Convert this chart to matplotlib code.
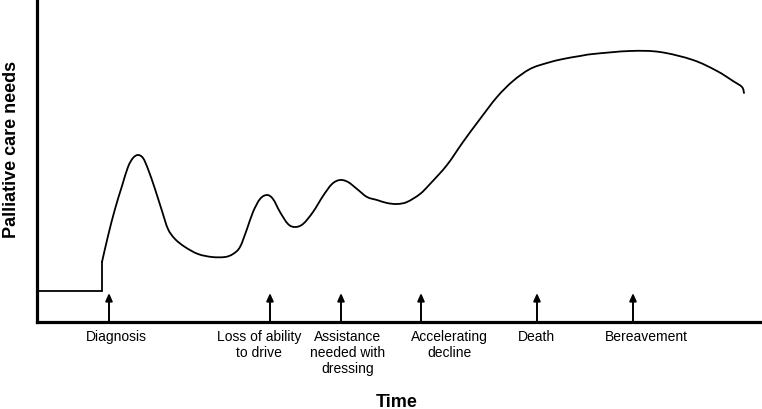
import matplotlib
matplotlib.use("Agg")
import matplotlib.pyplot as plt
import numpy as np
from matplotlib.path import Path
from matplotlib.patches import PathPatch

plt.rcParams['font.family'] = ['Liberation Sans', 'DejaVu Sans']

# Curve (time units, needs units)
time = [0, 65, 65, 71, 78, 85, 91, 96, 101, 106, 111, 118, 125, 131, 138, 148,
        161, 175, 188, 196, 203, 210, 216, 223, 230, 236, 243, 251, 258, 266,
        276, 286, 295, 303, 311, 320, 330, 340, 350, 360, 370, 383, 393,
        410, 426, 443, 460, 476, 493, 510, 526, 543, 556, 593, 623, 656, 680,
        696, 705, 707]
needs = [31, 31, 60, 86, 113, 136, 155, 164, 167, 164, 153, 133, 111, 93, 83, 75,
         68, 65, 65, 68, 75, 93, 110, 123, 127, 123, 110, 98, 95, 98,
         110, 126, 138, 142, 140, 133, 125, 122, 119, 118, 120, 128, 138,
         157, 180, 203, 225, 241, 253, 259, 263, 266, 268, 271, 270, 262, 251,
         241, 235, 229]

event_time = [72, 233, 304, 384, 500, 596]
event_label_x = [79, 222, 311, 412, 499, 609]
event_labels = ["Diagnosis", "Loss of ability\nto drive", "Assistance\nneeded with\ndressing",
                "Accelerating\ndecline", "Death", "Bereavement"]
arrow_height = 29

W, H = 762, 410
fig = plt.figure(figsize=(W / 100, H / 100), dpi=100)
ax = fig.add_axes([37 / W, (H - 323) / H, 723 / W, 323 / H])
ax.set_xlim(0, 723)
ax.set_ylim(0, 323)

pts = np.column_stack([time, needs]).astype(float)

# flat baseline and the step up at diagnosis
ax.plot(pts[:3, 0], pts[:3, 1], color='black', lw=1.3, solid_joinstyle='miter')

# smooth curve through the remaining points (Catmull-Rom drawn as Bezier path)
P = pts[2:]
ext = np.vstack([P[0], P, P[-1]])
verts = [tuple(P[0])]
codes = [Path.MOVETO]
for i in range(1, len(ext) - 2):
    p0, p1, p2, p3 = ext[i - 1], ext[i], ext[i + 1], ext[i + 2]
    c1 = p1 + (p2 - p0) / 6.0
    c2 = p2 - (p3 - p1) / 6.0
    verts += [tuple(c1), tuple(c2), tuple(p2)]
    codes += [Path.CURVE4] * 3
ax.add_patch(PathPatch(Path(verts, codes), facecolor='none', edgecolor='black',
                       lw=1.3, capstyle='round', joinstyle='round'))

for t in event_time:
    ax.annotate("", xy=(t, arrow_height), xytext=(t, 0),
                arrowprops=dict(arrowstyle='-|>,head_length=0.45,head_width=0.2',
                                color='black', lw=1.4, shrinkA=0, shrinkB=0))

for x, lab in zip(event_label_x, event_labels):
    ax.text(x, -7, lab, ha='center', va='top', fontsize=10, multialignment='center',
            linespacing=1.2, clip_on=False)

for s in ['top', 'right']:
    ax.spines[s].set_visible(False)
for s in ['left', 'bottom']:
    ax.spines[s].set_linewidth(2.3)
    ax.spines[s].set_color('black')
ax.set_xticks([])
ax.set_yticks([])

fig.text(397 / W, 1 - 403 / H, "Time", ha='center', va='center', fontsize=13, fontweight='bold')
fig.text(12 / W, 1 - 149 / H, "Palliative care needs", ha='center', va='center',
         fontsize=13, fontweight='bold', rotation=90)

fig.savefig("out.png", dpi=100)
